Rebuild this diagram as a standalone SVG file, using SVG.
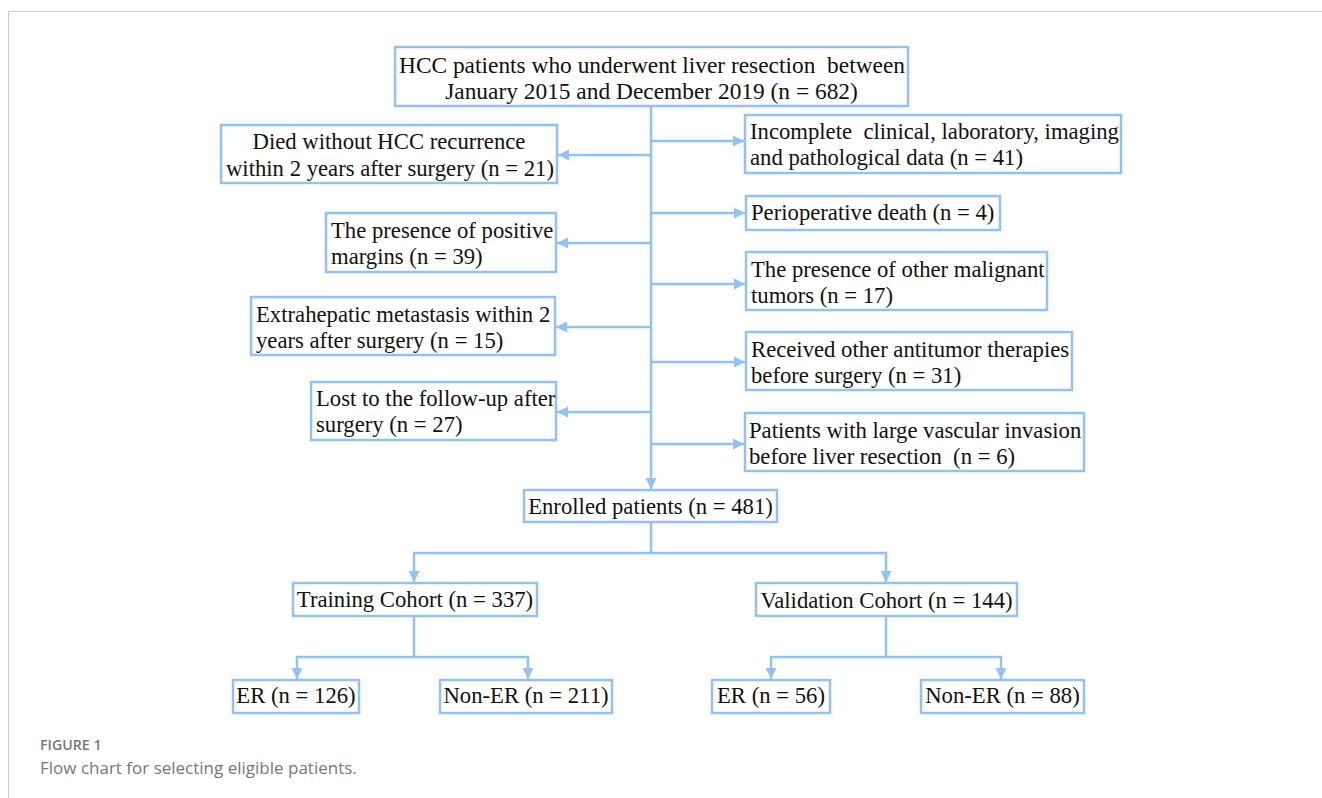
<svg xmlns="http://www.w3.org/2000/svg" width="1322" height="798" viewBox="0 0 1322 798">
  <style>
    .box { fill: #ffffff; stroke: #92c1f6; stroke-width: 2.5; }
    .t { font-family: "Liberation Serif", "Times New Roman", serif; font-size: 22.7px; fill: #111111; }
    .big { font-size: 23.4px; }
    .c { text-anchor: middle; }
    .conn { fill: none; stroke: #92c1f6; stroke-width: 2.5; }
    .cap1 { font-family: "Open Sans", "Lato", sans-serif; font-size: 14.2px; font-weight: 600; fill: #777777; }
    .cap2 { font-family: "Open Sans", "Lato", sans-serif; font-size: 17px; fill: #777777; }
  </style>
  <defs>
    <marker id="ah" markerUnits="userSpaceOnUse" markerWidth="12" markerHeight="12" refX="11" refY="6" orient="auto">
      <path d="M0,0.5 L11,6 L0,11.5 z" fill="#92c1f6"/>
    </marker>
  </defs>
  <rect width="1322" height="798" fill="#ffffff"/>
  <path d="M8.5,798 V11.5 H1322" fill="none" stroke="#cccccc" stroke-width="1"/>

  <g id="connectors">
    <path class="conn" d="M651,106 V489" marker-end="url(#ah)"/>
    <path class="conn" d="M651,155 H558" marker-end="url(#ah)"/>
    <path class="conn" d="M651,243 H557" marker-end="url(#ah)"/>
    <path class="conn" d="M651,327 H556" marker-end="url(#ah)"/>
    <path class="conn" d="M651,412 H557" marker-end="url(#ah)"/>
    <path class="conn" d="M651,141 H744" marker-end="url(#ah)"/>
    <path class="conn" d="M651,213 H745" marker-end="url(#ah)"/>
    <path class="conn" d="M651,284 H745" marker-end="url(#ah)"/>
    <path class="conn" d="M651,362 H745" marker-end="url(#ah)"/>
    <path class="conn" d="M651,444 H744" marker-end="url(#ah)"/>
    <path class="conn" d="M651,522 V553"/>
    <path class="conn" d="M651,553 H414 V582" marker-end="url(#ah)"/>
    <path class="conn" d="M651,553 H886 V582" marker-end="url(#ah)"/>
    <path class="conn" d="M414,616 V657"/>
    <path class="conn" d="M414,657 H297 V679" marker-end="url(#ah)"/>
    <path class="conn" d="M414,657 H528 V679" marker-end="url(#ah)"/>
    <path class="conn" d="M886,616 V657"/>
    <path class="conn" d="M886,657 H771 V679" marker-end="url(#ah)"/>
    <path class="conn" d="M886,657 H1001 V679" marker-end="url(#ah)"/>
  </g>

  <g id="n-start">
    <rect class="box" x="395" y="47" width="513" height="59"/>
    <text class="t big c" x="652" y="73" xml:space="preserve">HCC patients who underwent liver resection  between</text>
    <text class="t big c" x="651.5" y="99">January 2015 and December 2019 (n = 682)</text>
  </g>
  <g id="n-died">
    <rect class="box" x="221" y="125" width="336" height="58"/>
    <text class="t c" x="389" y="149">Died without HCC recurrence</text>
    <text class="t c" x="390" y="176">within 2 years after surgery (n = 21)</text>
  </g>
  <g id="n-incomplete">
    <rect class="box" x="745" y="115" width="376" height="58"/>
    <text class="t" x="750" y="139" xml:space="preserve">Incomplete  clinical, laboratory, imaging</text>
    <text class="t" x="750" y="165">and pathological data (n = 41)</text>
  </g>
  <g id="n-periop">
    <rect class="box" x="746" y="196" width="254" height="34"/>
    <text class="t" x="751" y="220">Perioperative death (n = 4)</text>
  </g>
  <g id="n-margins">
    <rect class="box" x="326" y="213" width="230" height="59"/>
    <text class="t" x="331" y="238">The presence of positive</text>
    <text class="t" x="331" y="264">margins (n = 39)</text>
  </g>
  <g id="n-malignant">
    <rect class="box" x="746" y="252" width="301" height="58"/>
    <text class="t" x="751" y="277">The presence of other malignant</text>
    <text class="t" x="751" y="303">tumors (n = 17)</text>
  </g>
  <g id="n-extrahepatic">
    <rect class="box" x="251" y="297" width="304" height="58"/>
    <text class="t" x="256" y="322">Extrahepatic metastasis within 2</text>
    <text class="t" x="256" y="348">years after surgery (n = 15)</text>
  </g>
  <g id="n-antitumor">
    <rect class="box" x="746" y="332" width="326" height="58"/>
    <text class="t" x="751" y="357">Received other antitumor therapies</text>
    <text class="t" x="751" y="383">before surgery (n = 31)</text>
  </g>
  <g id="n-lost">
    <rect class="box" x="311" y="382" width="245" height="58"/>
    <text class="t" x="316" y="406">Lost to the follow-up after</text>
    <text class="t" x="316" y="432">surgery (n = 27)</text>
  </g>
  <g id="n-vascular">
    <rect class="box" x="745" y="413" width="339" height="58"/>
    <text class="t" x="749" y="438">Patients with large vascular invasion</text>
    <text class="t" x="749" y="464" xml:space="preserve">before liver resection  (n = 6)</text>
  </g>
  <g id="n-enrolled">
    <rect class="box" x="524" y="490" width="253" height="32"/>
    <text class="t c" x="650.5" y="514">Enrolled patients (n = 481)</text>
  </g>
  <g id="n-training">
    <rect class="box" x="293" y="583" width="244" height="33"/>
    <text class="t c" x="415" y="607">Training Cohort (n = 337)</text>
  </g>
  <g id="n-validation">
    <rect class="box" x="756" y="583" width="261" height="33"/>
    <text class="t c" x="886.5" y="608">Validation Cohort (n = 144)</text>
  </g>
  <g id="n-er-train">
    <rect class="box" x="233" y="680" width="126" height="33"/>
    <text class="t c" x="296" y="703">ER (n = 126)</text>
  </g>
  <g id="n-noner-train">
    <rect class="box" x="440" y="680" width="172" height="33"/>
    <text class="t c" x="526" y="703">Non-ER (n = 211)</text>
  </g>
  <g id="n-er-val">
    <rect class="box" x="712" y="680" width="118" height="33"/>
    <text class="t c" x="771" y="703">ER (n = 56)</text>
  </g>
  <g id="n-noner-val">
    <rect class="box" x="921" y="680" width="163" height="33"/>
    <text class="t c" x="1002.5" y="703">Non-ER (n = 88)</text>
  </g>

  <g id="caption">
    <text class="cap1" x="40" y="750">FIGURE 1</text>
    <text class="cap2" x="40" y="774">Flow chart for selecting eligible patients.</text>
  </g>
</svg>
